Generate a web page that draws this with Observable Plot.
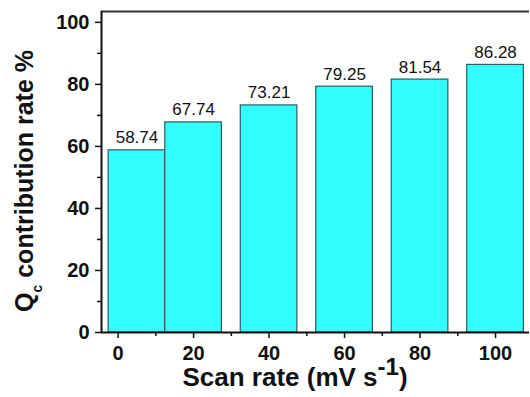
<!DOCTYPE html>
<html>
<head>
<meta charset="utf-8">
<script src="https://cdn.jsdelivr.net/npm/d3@7"></script>
<script src="https://cdn.jsdelivr.net/npm/@observablehq/plot@0.6"></script>
<style>
  html, body { margin: 0; padding: 0; background: #fff; }
  #chart svg { display: block; }
</style>
</head>
<body>
<div id="chart"></div>
<script>
// Capacitive (Qc) contribution at each scan rate
const scanRates = [5, 20, 40, 60, 80, 100];          // mV s^-1
const contribution = [58.74, 67.74, 73.21, 79.25, 81.54, 86.28]; // %
const xTicks = [0, 20, 40, 60, 80, 100];
const xMinorTicks = [10, 30, 50, 70, 90];
const yTicks = [0, 20, 40, 60, 80, 100];
const yMinorTicks = [10, 30, 50, 70, 90];

const barHalfWidth = 7.5;
const xDomain = [-4.4, 109];
const yDomain = [0, 103.5];

const rows = scanRates.map((r, i) => ({rate: r, value: contribution[i]}));

const font = "'Liberation Sans', Arial, Helvetica, sans-serif";

const chart = Plot.plot({
  width: 530,
  height: 397,
  marginLeft: 101,
  marginRight: 1,
  marginTop: 11,
  marginBottom: 65,
  style: {fontFamily: font, color: "#111", background: "#fff"},
  x: {type: "linear", domain: xDomain},
  y: {domain: yDomain},
  marks: [
    Plot.rectY(rows, {
      x1: d => d.rate - barHalfWidth,
      x2: d => d.rate + barHalfWidth,
      y: "value",
      fill: "#33ffff",
      stroke: "#2d5c5c",
      strokeWidth: 1.2
    }),
    Plot.text(rows, {
      x: "rate",
      y: "value",
      text: d => d.value.toFixed(2),
      lineAnchor: "bottom",
      dy: -7,
      fontSize: 17,
      fill: "#111"
    }),
    // frame: top, left, bottom
    Plot.ruleY([yDomain[1]], {stroke: "#333", strokeWidth: 2}),
    Plot.ruleX([xDomain[0]], {stroke: "#111", strokeWidth: 2}),
    Plot.ruleY([0], {stroke: "#111", strokeWidth: 2}),
    Plot.axisX({
      ticks: xTicks, tickSize: 6, tickPadding: 7, strokeWidth: 1.5,
      fontSize: 20, fontWeight: "bold", label: null
    }),
    Plot.axisX({ticks: xMinorTicks, tickSize: 4, strokeWidth: 1.5, text: null, label: null}),
    Plot.axisY({
      ticks: yTicks, tickSize: 6, tickPadding: 6, strokeWidth: 1.5,
      fontSize: 20, fontWeight: "bold", label: null
    }),
    Plot.axisY({ticks: yMinorTicks, tickSize: 4, strokeWidth: 1.5, text: null, label: null})
  ]
});

document.getElementById("chart").appendChild(chart);

const svg = d3.select(chart);

// Axis titles with sub/superscripts
const xTitle = svg.append("text")
  .attr("x", 295)
  .attr("y", 386)
  .attr("text-anchor", "middle")
  .attr("font-family", font)
  .attr("font-size", 26)
  .attr("font-weight", "bold")
  .attr("fill", "#111");
xTitle.append("tspan").text("Scan rate (mV s");
xTitle.append("tspan").attr("font-size", 24).attr("dy", -11).text("-1");
xTitle.append("tspan").attr("dy", 11).text(")");

const yTitle = svg.append("text")
  .attr("transform", "translate(33,181) rotate(-90)")
  .attr("text-anchor", "middle")
  .attr("font-family", font)
  .attr("font-size", 25)
  .attr("font-weight", "bold")
  .attr("fill", "#111");
yTitle.append("tspan").text("Q");
yTitle.append("tspan").attr("font-size", 14).attr("dy", 9).text("c");
yTitle.append("tspan").attr("dy", -9).text(" contribution rate %");
</script>
</body>
</html>
